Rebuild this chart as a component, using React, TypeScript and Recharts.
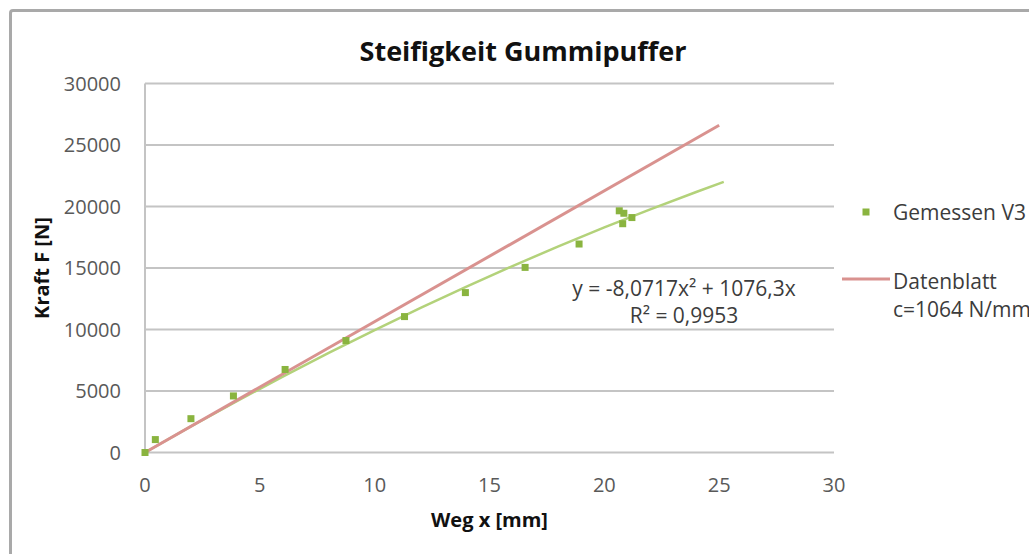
import React from 'react';
import {
  ComposedChart,
  Scatter,
  Line,
  XAxis,
  YAxis,
  CartesianGrid,
  Legend,
  Label,
  Customized,
} from 'recharts';

// Measured displacement x [mm] and force F [N], test run V3
const MEASURED_X = [0, 0.45, 2.0, 3.85, 6.1, 8.75, 11.3, 13.95, 16.55, 18.9, 20.65, 20.85, 20.8, 21.2];
const MEASURED_F = [0, 1050, 2750, 4600, 6750, 9100, 11050, 13000, 15050, 16950, 19650, 19450, 18600, 19100];

// Datasheet stiffness c = 1064 N/mm, drawn over 0..25 mm
const DATASHEET_C = 1064;
const DATASHEET_X = [0, 25];

// Polynomial trendline y = a·x² + b·x of the measured points
const TREND_A = -8.0717;
const TREND_B = 1076.3;
const TREND_X = [0, 2, 4, 6, 8, 10, 12, 14, 16, 18, 20, 22, 24, 25.2];

const X_TICKS = [0, 5, 10, 15, 20, 25, 30];
const Y_TICKS = [0, 5000, 10000, 15000, 20000, 25000, 30000];

const TITLE = 'Steifigkeit Gummipuffer';
const X_TITLE = 'Weg x [mm]';
const Y_TITLE = 'Kraft F [N]';
const SERIES_MEASURED = 'Gemessen V3';
const SERIES_DATASHEET = ['Datenblatt', 'c=1064 N/mm'];
const TREND_EQUATION = 'y = -8,0717x² + 1076,3x';
const TREND_R2 = 'R² = 0,9953';

const FONT = '"Open Sans", "Noto Sans", sans-serif';
const MARKER = '#8ab43f';
const TREND = '#b3d27a';
const RED = '#d9928f';
const GRID = '#c4c4c4';

const measured = MEASURED_X.map((x, i) => ({ x, f: MEASURED_F[i] }));
const datasheet = DATASHEET_X.map((x) => ({ x, f: DATASHEET_C * x }));
const trend = TREND_X.map((x) => ({ x, f: TREND_A * x * x + TREND_B * x }));

const SquareMarker = (props: any) => {
  const { cx, cy } = props;
  if (cx == null || cy == null) return null;
  return <rect x={cx - 3.5} y={cy - 3.5} width={7} height={7} fill={MARKER} />;
};

const renderLegend = () => (
  <div style={{ width: 260, fontFamily: FONT, fontSize: 21, color: '#3c3c3c', whiteSpace: 'nowrap' }}>
    <div style={{ display: 'flex', alignItems: 'center', height: 28 }}>
      <svg width={53} height={28} style={{ display: 'block', flexShrink: 0 }}>
        <rect x={22.5} y={10.5} width={7} height={7} fill={MARKER} />
      </svg>
      <span style={{ lineHeight: '28px' }}>{SERIES_MEASURED}</span>
    </div>
    <div style={{ display: 'flex', alignItems: 'flex-start', marginTop: 41 }}>
      <svg width={53} height={28} style={{ display: 'block', flexShrink: 0 }}>
        <line x1={2} y1={12} x2={50} y2={12} stroke={RED} strokeWidth={3} />
      </svg>
      <div style={{ lineHeight: '28px' }}>
        <div>{SERIES_DATASHEET[0]}</div>
        <div>{SERIES_DATASHEET[1]}</div>
      </div>
    </div>
  </div>
);

const Annotations = () => (
  <g fontFamily={FONT}>
    <text x={523} y={61} textAnchor="middle" fontSize={27} fontWeight={700} fill="#111">
      {TITLE}
    </text>
    <text x={684} y={296} textAnchor="middle" fontSize={21} fill="#3c3c3c">
      {TREND_EQUATION}
    </text>
    <text x={684} y={323} textAnchor="middle" fontSize={21} fill="#3c3c3c">
      {TREND_R2}
    </text>
  </g>
);

export default function App() {
  return (
    <div
      style={{
        position: 'absolute',
        left: 0,
        top: 0,
        width: 1029,
        height: 554,
        overflow: 'hidden',
        background: '#fff',
      }}
    >
      <div
        style={{
          position: 'absolute',
          left: 9,
          top: 9,
          width: 1100,
          height: 620,
          border: '3px solid #a9a9a9',
          borderRadius: 4,
        }}
      />
      <ComposedChart
        width={1029}
        height={554}
        margin={{ top: 83.5, right: 195, bottom: 0, left: 0 }}
        style={{ position: 'absolute', left: 0, top: 0 }}
      >
        <CartesianGrid vertical={false} stroke={GRID} strokeWidth={2} />
        <XAxis
          type="number"
          dataKey="x"
          domain={[0, 30]}
          ticks={X_TICKS}
          height={101.5}
          axisLine={false}
          tickLine={false}
          tickSize={0}
          tickMargin={25}
          tick={{ fill: '#595959', fontSize: 20, fontFamily: FONT }}
        >
          <Label
            value={X_TITLE}
            position="insideBottom"
            offset={27}
            style={{ fontFamily: FONT, fontSize: 20, fontWeight: 700, fill: '#111' }}
          />
        </XAxis>
        <YAxis
          type="number"
          dataKey="f"
          domain={[0, 30000]}
          ticks={Y_TICKS}
          width={145}
          axisLine={{ stroke: GRID, strokeWidth: 2 }}
          tickLine={false}
          tickSize={0}
          tickMargin={24}
          tick={{ fill: '#595959', fontSize: 20, fontFamily: FONT }}
        >
          <Label
            value={Y_TITLE}
            angle={-90}
            position="insideLeft"
            offset={42}
            style={{ fontFamily: FONT, fontSize: 20, fontWeight: 700, fill: '#111', textAnchor: 'middle' }}
          />
        </YAxis>
        <Legend
          layout="horizontal"
          verticalAlign="middle"
          align="right"
          content={renderLegend}
          wrapperStyle={{ left: 840, top: 198, width: 0, height: 0, overflow: 'visible' }}
        />
        <Line
          data={trend}
          dataKey="f"
          name="Trend"
          stroke={TREND}
          strokeWidth={2.5}
          dot={false}
          activeDot={false}
          legendType="none"
          isAnimationActive={false}
        />
        <Line
          data={datasheet}
          dataKey="f"
          name="Datenblatt"
          stroke={RED}
          strokeWidth={3}
          dot={false}
          activeDot={false}
          isAnimationActive={false}
        />
        <Scatter
          data={measured}
          dataKey="f"
          name={SERIES_MEASURED}
          shape={<SquareMarker />}
          isAnimationActive={false}
        />
        <Customized component={Annotations} />
      </ComposedChart>
    </div>
  );
}
